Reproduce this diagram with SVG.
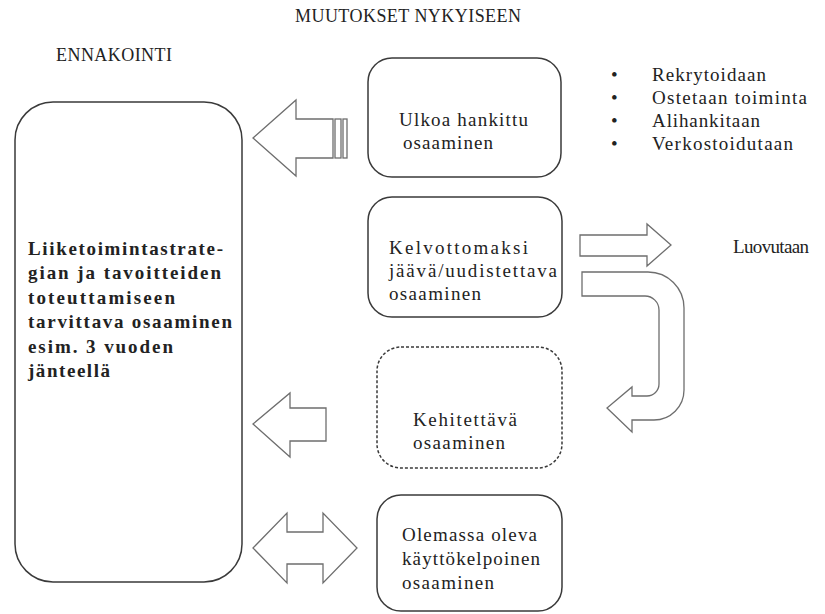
<svg xmlns="http://www.w3.org/2000/svg" width="825" height="614" viewBox="0 0 825 614">
  <defs>
    <style>
      .box { fill: #ffffff; stroke: #3a3a3a; stroke-width: 1.5; }
      .dashed { stroke-dasharray: 3 2; }
      .arrow { fill: #ffffff; stroke: #6e6e6e; stroke-width: 1.3; stroke-linejoin: miter; }
      .t { font-family: "Liberation Serif", serif; font-size: 19px; fill: #222222; }
      .h { font-size: 18px; }
      .b { font-weight: bold; }
    </style>
  </defs>
  <rect width="825" height="614" fill="#ffffff"/>

  <!-- headings -->
  <g id="headings">
    <text class="t h" x="295" y="22" textLength="226" lengthAdjust="spacing">MUUTOKSET NYKYISEEN</text>
    <text class="t h" x="56" y="61" textLength="116" lengthAdjust="spacing">ENNAKOINTI</text>
  </g>

  <!-- connectors (block arrows) -->
  <g id="connectors">
    <!-- striped arrow from the external box to the target box -->
    <path class="arrow" d="M253 138 L296 100 L296 119 L333 119 L333 158 L296 158 L296 176 Z"/>
    <rect class="arrow" x="335" y="119" width="6" height="39"/>
    <rect class="arrow" x="343" y="119" width="4" height="39"/>
    <!-- to "Luovutaan" -->
    <path class="arrow" d="M580 235 L647 235 L647 224 L671 245 L647 266 L647 256 L580 256 Z"/>
    <!-- U-turn arrow down to the developing box -->
    <path class="arrow" d="M582 272 L648 272 A36 36 0 0 1 684 308 L684 390 A30 30 0 0 1 654 420 L632 420 L632 432 L607 408 L632 387 L632 396 L647 396 A12 12 0 0 0 659 384 L659 310 A14 14 0 0 0 645 296 L582 296 Z"/>
    <!-- from developing box -->
    <path class="arrow" d="M253 424 L290 393 L290 408 L326 408 L326 441 L290 441 L290 457 Z"/>
    <!-- two-way arrow -->
    <path class="arrow" d="M253 548 L287 513 L287 532 L323 532 L323 513 L357 548 L323 583 L323 564 L287 564 L287 583 Z"/>
  </g>

  <!-- nodes -->
  <g id="target">
    <rect class="box" x="15" y="102" width="227" height="480" rx="38" ry="38"/>
    <text class="t b" x="28" y="255" textLength="195" lengthAdjust="spacing">Liiketoimintastrate-</text>
    <text class="t b" x="28" y="279" textLength="193" lengthAdjust="spacing">gian ja tavoitteiden</text>
    <text class="t b" x="28" y="304" textLength="147" lengthAdjust="spacing">toteuttamiseen</text>
    <text class="t b" x="28" y="328" textLength="204" lengthAdjust="spacing">tarvittava osaaminen</text>
    <text class="t b" x="28" y="353" textLength="145" lengthAdjust="spacing">esim. 3 vuoden</text>
    <text class="t b" x="28" y="377" textLength="82" lengthAdjust="spacing">jänteellä</text>
  </g>

  <g id="external">
    <rect class="box" x="368" y="58" width="193" height="119" rx="24" ry="24"/>
    <text class="t" x="399" y="126" textLength="129" lengthAdjust="spacing">Ulkoa hankittu</text>
    <text class="t" x="403" y="149" textLength="90" lengthAdjust="spacing">osaaminen</text>
  </g>

  <g id="external-ways">
    <text class="t" x="611" y="81">•</text>
    <text class="t" x="652" y="81" textLength="114" lengthAdjust="spacing">Rekrytoidaan</text>
    <text class="t" x="611" y="104">•</text>
    <text class="t" x="652" y="104" textLength="155" lengthAdjust="spacing">Ostetaan toiminta</text>
    <text class="t" x="611" y="127">•</text>
    <text class="t" x="652" y="127" textLength="108" lengthAdjust="spacing">Alihankitaan</text>
    <text class="t" x="611" y="150">•</text>
    <text class="t" x="652" y="150" textLength="141" lengthAdjust="spacing">Verkostoidutaan</text>
  </g>

  <g id="obsolete">
    <rect class="box" x="368" y="197" width="194" height="120" rx="24" ry="24"/>
    <text class="t" x="389" y="254" textLength="139" lengthAdjust="spacing">Kelvottomaksi</text>
    <text class="t" x="389" y="277" textLength="168" lengthAdjust="spacing">jäävä/uudistettava</text>
    <text class="t" x="389" y="300" textLength="92" lengthAdjust="spacing">osaaminen</text>
  </g>

  <g id="released">
    <text class="t" x="733" y="253" textLength="76" lengthAdjust="spacing">Luovutaan</text>
  </g>

  <g id="developing">
    <rect class="box dashed" x="377" y="347" width="185" height="121" rx="24" ry="24"/>
    <text class="t" x="413" y="426" textLength="104" lengthAdjust="spacing">Kehitettävä</text>
    <text class="t" x="413" y="449" textLength="92" lengthAdjust="spacing">osaaminen</text>
  </g>

  <g id="existing">
    <rect class="box" x="377" y="495" width="185" height="116" rx="24" ry="24"/>
    <text class="t" x="402" y="541" textLength="135" lengthAdjust="spacing">Olemassa oleva</text>
    <text class="t" x="402" y="565" textLength="138" lengthAdjust="spacing">käyttökelpoinen</text>
    <text class="t" x="402" y="589" textLength="92" lengthAdjust="spacing">osaaminen</text>
  </g>
</svg>
